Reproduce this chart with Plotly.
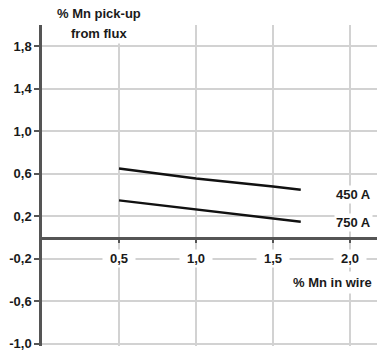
import plotly.graph_objects as go

# Data
wire_mn = [0.5, 1.0, 1.5, 1.68]
pickup_450A = [0.65, 0.555, 0.48, 0.45]
pickup_750A = [0.35, 0.265, 0.18, 0.15]
series_names = ["450 A", "750 A"]

y_tickvals = [1.8, 1.4, 1.0, 0.6, 0.2, -0.2, -0.6, -1.0]
y_ticktext = ["1,8", "1,4", "1,0", "0,6", "0,2", "-0,2", "-0,6", "-1,0"]
x_tickvals = [0.5, 1.0, 1.5, 2.0]
x_ticktext = ["0,5", "1,0", "1,5", "2,0"]

FONT = "Liberation Sans, Arial, sans-serif"
TXT = "#1a1a1a"
AXIS = "#555555"
GRID = "#d2d2d2"

fig = go.Figure()
for ys in (pickup_450A, pickup_750A):
    fig.add_trace(go.Scatter(x=wire_mn, y=ys, mode="lines",
                             line=dict(color="#111111", width=2.5),
                             showlegend=False, hoverinfo="skip"))

y_min, y_max = -1.02, 2.0
fig.update_layout(
    width=377, height=350,
    margin=dict(l=42, r=0, t=25, b=4),
    paper_bgcolor="white", plot_bgcolor="white",
    font=dict(family=FONT, size=13, color=TXT, weight="bold"),
    xaxis=dict(range=[0, 2.175], tickvals=x_tickvals, showticklabels=False,
               showgrid=True, gridcolor=GRID, gridwidth=1.5,
               zeroline=False, showline=True, linecolor=AXIS, linewidth=2.5,
               anchor="free", position=(0 - y_min) / (y_max - y_min),
               ticks="outside", ticklen=4, tickcolor=AXIS, tickwidth=1.5),
    yaxis=dict(range=[y_min, y_max], tickvals=y_tickvals, ticktext=y_ticktext,
               showgrid=True, gridcolor=GRID, gridwidth=1.5, zeroline=False,
               showline=True, linecolor=AXIS, linewidth=2.5,
               ticks="outside", ticklen=5, tickcolor=AXIS, tickwidth=1.5,
               ticklabeloverflow="allow",
               tickfont=dict(family=FONT, size=13, color=TXT, weight="bold")),
)

annos = []
for v, t in zip(x_tickvals, x_ticktext):
    annos.append(dict(x=v, y=-0.2, text=t, showarrow=False, bgcolor="white",
                      width=30, xanchor="center", yanchor="middle"))
annos.append(dict(x=1.883, y=-0.42, text="% Mn in wire", showarrow=False,
                  bgcolor="white", xanchor="center", yanchor="middle", borderpad=3))
annos.append(dict(x=0.37, y=1.037, yref="paper", text="% Mn pick-up", showarrow=False,
                  bgcolor="white", xanchor="center", yanchor="middle"))
annos.append(dict(x=0.37, y=0.975, yref="paper", text="from flux", showarrow=False,
                  bgcolor="white", xanchor="center", yanchor="middle", borderpad=2))
annos.append(dict(x=2.02, y=0.405, text=series_names[0], showarrow=False,
                  bgcolor="white", xanchor="center", yanchor="middle"))
annos.append(dict(x=2.02, y=0.14, text=series_names[1], showarrow=False,
                  bgcolor="white", xanchor="center", yanchor="middle"))
fig.update_layout(annotations=annos)

fig.write_html("out.html", config={"displayModeBar": False},
               post_script="document.body.style.margin='0';")
